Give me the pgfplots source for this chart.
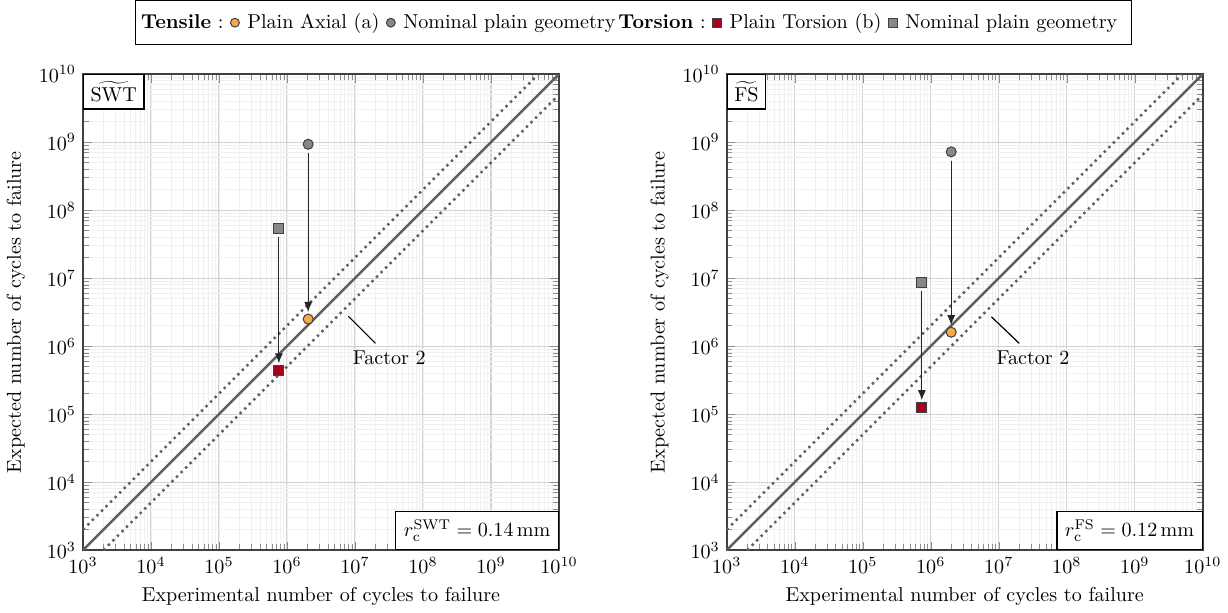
\documentclass[border=0pt]{standalone}
\usepackage{pgfplots}
\pgfplotsset{compat=1.18}
\usepackage{amsmath}
\usetikzlibrary{arrows.meta}

\definecolor{corange}{RGB}{247,166,72}
\definecolor{cred}{RGB}{165,0,30}
\definecolor{cgray}{RGB}{135,135,135}
\definecolor{cline}{RGB}{95,95,95}

\tikzset{
  diag/.style={cline, line width=1.2pt},
  fac/.style={cline, line width=1.2pt, dotted},
  arr/.style={-{Latex[length=5pt,width=4pt]}, black!85, line width=0.6pt, shorten <=4.5pt, shorten >=3.5pt},
}

\pgfplotsset{
  every axis/.append style={
    width=237pt, height=237pt, scale only axis,
    xmin=1e3, xmax=1e10, ymin=1e3, ymax=1e10,
    grid=both,
    major grid style={black!18, line width=0.5pt},
    minor grid style={black!6, line width=0.4pt},
    axis line style={black!75, line width=0.8pt},
    tick style={black!45},
    xlabel={Experimental number of cycles to failure},
    ylabel={Expected number of cycles to failure},
  },
}

\begin{document}
\begin{tikzpicture}
\begin{loglogaxis}[
  legend columns=-1,
  legend style={at={(1.156,1.108)}, anchor=center, draw=black, line width=0.6pt,
    /tikz/every odd column/.append style={column sep=2pt},
    /tikz/every even column/.append style={column sep=1.5pt},
    inner xsep=5pt, inner ysep=4.5pt},
  legend cell align=left,
]
\addlegendimage{empty legend}\addlegendentry{\hspace{-6pt}\textbf{Tensile} :}
\addlegendimage{only marks, mark=*, mark size=2.2pt, mark options={fill=corange, draw=black!75, line width=0.5pt}}\addlegendentry{Plain Axial (a)}
\addlegendimage{only marks, mark=*, mark size=2.2pt, mark options={fill=cgray, draw=black!75, line width=0.5pt}}\addlegendentry{Nominal plain geometry}
\addlegendimage{empty legend}\addlegendentry{\hspace{-6pt}\textbf{Torsion} :}
\addlegendimage{only marks, mark=square*, mark size=2.2pt, mark options={fill=cred, draw=black!75, line width=0.5pt}}\addlegendentry{Plain Torsion (b)}
\addlegendimage{only marks, mark=square*, mark size=2.2pt, mark options={fill=cgray, draw=black!75, line width=0.5pt}}\addlegendentry{Nominal plain geometry}

\addplot[diag, forget plot] coordinates {(1e3,1e3) (1e10,1e10)};
\addplot[fac, forget plot] coordinates {(1e3,2e3) (5e9,1e10)};
\addplot[fac, forget plot] coordinates {(2e3,1e3) (1e10,5e9)};

\draw[arr] (axis cs:2.05e6,9.3e8) -- (axis cs:2.05e6,2.5e6);
\draw[arr] (axis cs:7.6e5,5.4e7) -- (axis cs:7.6e5,4.4e5);

\addplot[only marks, mark=*, mark size=2.5pt, mark options={fill=cgray, draw=black!75, line width=0.5pt}, forget plot] coordinates {(2.05e6,9.3e8)};
\addplot[only marks, mark=*, mark size=2.5pt, mark options={fill=corange, draw=black!75, line width=0.5pt}, forget plot] coordinates {(2.05e6,2.5e6)};
\addplot[only marks, mark=square*, mark size=2.5pt, mark options={fill=cgray, draw=black!75, line width=0.5pt}, forget plot] coordinates {(7.6e5,5.4e7)};
\addplot[only marks, mark=square*, mark size=2.5pt, mark options={fill=cred, draw=black!75, line width=0.5pt}, forget plot] coordinates {(7.6e5,4.4e5)};

\draw[black, line width=0.6pt] (axis cs:8e6,2.75e6) -- (axis cs:2e7,1.1e6);
\node[anchor=center] at (axis cs:3.2e7,6.8e5) {Factor 2};

\node[draw=black, line width=0.6pt, fill=white, anchor=north west, inner sep=3.5pt] at (rel axis cs:0,1) {$\widetilde{\mathrm{SWT}}$};
\node[draw=black, line width=0.6pt, fill=white, anchor=south east, inner sep=4pt] at (rel axis cs:1,0) {$r_\mathrm{c}^\mathrm{SWT} = 0.14\,\mathrm{mm}$};
\end{loglogaxis}

\begin{loglogaxis}[at={(320.5pt,0pt)}]
\addplot[diag] coordinates {(1e3,1e3) (1e10,1e10)};
\addplot[fac] coordinates {(1e3,2e3) (5e9,1e10)};
\addplot[fac] coordinates {(2e3,1e3) (1e10,5e9)};

\draw[arr] (axis cs:2e6,7.2e8) -- (axis cs:2e6,1.6e6);
\draw[arr] (axis cs:7.4e5,8.7e6) -- (axis cs:7.4e5,1.26e5);

\addplot[only marks, mark=*, mark size=2.5pt, mark options={fill=cgray, draw=black!75, line width=0.5pt}] coordinates {(2e6,7.2e8)};
\addplot[only marks, mark=*, mark size=2.5pt, mark options={fill=corange, draw=black!75, line width=0.5pt}] coordinates {(2e6,1.6e6)};
\addplot[only marks, mark=square*, mark size=2.5pt, mark options={fill=cgray, draw=black!75, line width=0.5pt}] coordinates {(7.4e5,8.7e6)};
\addplot[only marks, mark=square*, mark size=2.5pt, mark options={fill=cred, draw=black!75, line width=0.5pt}] coordinates {(7.4e5,1.26e5)};

\draw[black, line width=0.6pt] (axis cs:7.8e6,2.7e6) -- (axis cs:2e7,1.1e6);
\node[anchor=center] at (axis cs:3.2e7,6.8e5) {Factor 2};

\node[draw=black, line width=0.6pt, fill=white, anchor=north west, inner sep=3.5pt] at (rel axis cs:0,1) {$\widetilde{\mathrm{FS}}$};
\node[draw=black, line width=0.6pt, fill=white, anchor=south east, inner sep=4pt] at (rel axis cs:1,0) {$r_\mathrm{c}^\mathrm{FS} = 0.12\,\mathrm{mm}$};
\end{loglogaxis}
\end{tikzpicture}
\end{document}
